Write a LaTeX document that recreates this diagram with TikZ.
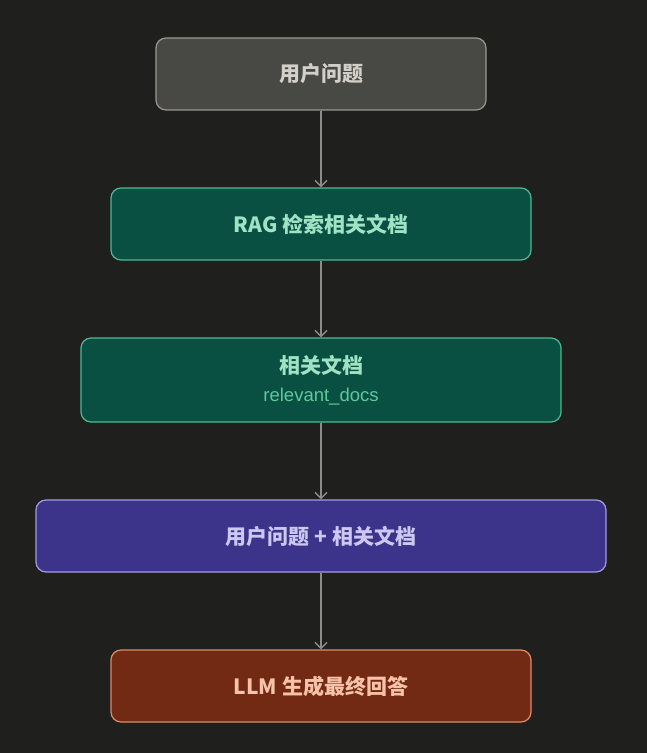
\documentclass[tikz,border=0pt]{standalone}
\usepackage{fontspec}
\setmainfont{Noto Sans CJK SC}
\newfontfamily\subfont{Liberation Sans}
\usepackage{tikz}
\usetikzlibrary{arrows.meta,positioning}
\definecolor{bgdark}{HTML}{1F1F1D}
\definecolor{qfill}{HTML}{484844}
\definecolor{qline}{HTML}{9A9890}
\definecolor{qtext}{HTML}{D2D0C8}
\definecolor{gfill}{HTML}{0A5042}
\definecolor{gline}{HTML}{4CBA92}
\definecolor{gtext}{HTML}{A0E2C4}
\definecolor{gsub}{HTML}{5CC89C}
\definecolor{pfill}{HTML}{3C348A}
\definecolor{pline}{HTML}{A49CE2}
\definecolor{ptext}{HTML}{CCC8F2}
\definecolor{rfill}{HTML}{722A14}
\definecolor{rline}{HTML}{E08C6A}
\definecolor{rtext}{HTML}{F6C2AA}
\definecolor{arrowgray}{HTML}{8C8C88}
\newcommand{\subline}[1]{\\[5pt]{\fontsize{18.5pt}{20pt}\selectfont\subfont\mdseries\color{gsub}#1}}

\begin{document}
\begin{tikzpicture}[node distance=150pt, on grid,
  box/.style={rectangle, rounded corners=10pt, line width=1.2pt, align=center,
    minimum height=72pt, inner sep=0pt, font=\fontsize{21pt}{23pt}\selectfont\bfseries},
  askbox/.style={box, fill=qfill, draw=qline, text=qtext, minimum width=330pt},
  greenbox/.style={box, fill=gfill, draw=gline, text=gtext},
  mergebox/.style={box, fill=pfill, draw=pline, text=ptext, minimum width=570pt},
  llmbox/.style={box, fill=rfill, draw=rline, text=rtext, minimum width=420pt},
  flow/.style={draw=arrowgray, line width=1.4pt, -{Straight Barb[length=6pt,width=12pt,line width=1.4pt]}}]
  \fill[bgdark] (0pt,0pt) rectangle (647pt,-753pt);
  \useasboundingbox (0pt,0pt) rectangle (647pt,-753pt);

  \node[askbox] (ask) at (321pt,-74pt) {用户问题};
  \node[greenbox, minimum width=420pt, below=of ask] (rag) {RAG 检索相关文档};
  \node[greenbox, minimum width=480pt, minimum height=84pt, below=156pt of rag] (docs)
    {相关文档\subline{relevant\_docs}};
  \node[mergebox, below=156pt of docs] (merge) {用户问题 + 相关文档};
  \node[llmbox, below=of merge] (llm) {LLM 生成最终回答};

  \path[flow] (ask) edge (rag)
    (rag) edge (docs)
    (docs) edge (merge)
    (merge) edge (llm);
\end{tikzpicture}
\end{document}
